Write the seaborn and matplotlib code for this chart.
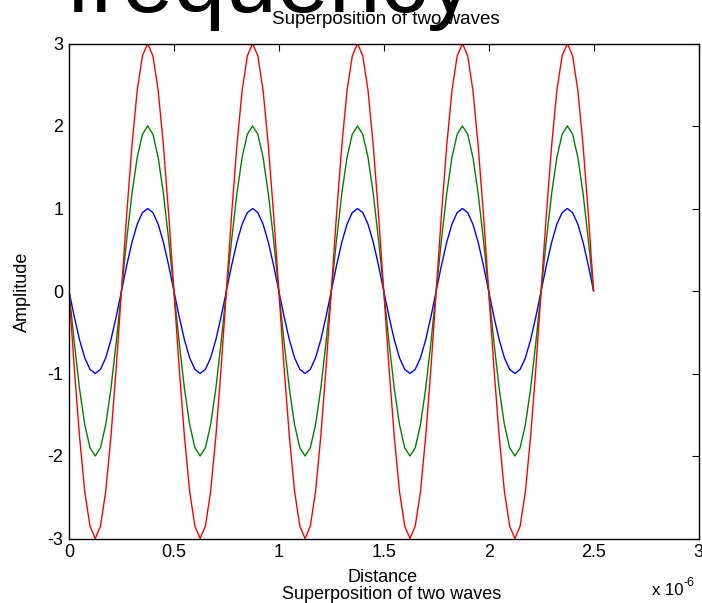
import numpy as np
import pandas as pd
import matplotlib
matplotlib.use('Agg')
import matplotlib.pyplot as plt
import seaborn as sns

# one period of each wave (distance in units of 1e-6)
period_x = [0.0, 0.025, 0.05, 0.075, 0.1, 0.125, 0.15, 0.175, 0.2, 0.225,
            0.25, 0.275, 0.3, 0.325, 0.35, 0.375, 0.4, 0.425, 0.45, 0.475]
blue_period = [0.00, -0.31, -0.59, -0.81, -0.95, -1.00, -0.95, -0.81, -0.59, -0.31,
               0.00, 0.31, 0.59, 0.81, 0.95, 1.00, 0.95, 0.81, 0.59, 0.31]
green_period = [0.00, -0.62, -1.18, -1.62, -1.90, -2.00, -1.90, -1.62, -1.18, -0.62,
                0.00, 0.62, 1.18, 1.62, 1.90, 2.00, 1.90, 1.62, 1.18, 0.62]
red_period = [0.00, -0.93, -1.76, -2.43, -2.85, -3.00, -2.85, -2.43, -1.76, -0.93,
              0.00, 0.93, 1.76, 2.43, 2.85, 3.00, 2.85, 2.43, 1.76, 0.93]
period_len = 0.5
n_periods = 5
end_x = 2.5
end_value = 0.0

wave_names = ['wave 1', 'wave 2', 'sum']
wave_colors = ['#0000ff', '#008000', '#ff0000']

x_ticks = [0, 0.5, 1, 1.5, 2, 2.5, 3]
x_ticklabels = ['0', '0.5', '1', '1.5', '2', '2.5', '3']
y_ticks = [-3, -2, -1, 0, 1, 2, 3]
y_ticklabels = ['-3', '-2', '-1', '0', '1', '2', '3']

# the picture repeats the same period five times
dist = [p + k * period_len for k in range(n_periods) for p in period_x] + [end_x]
rows = []
for name, vals in zip(wave_names, [blue_period, green_period, red_period]):
    amp = list(vals) * n_periods + [end_value]
    for d, a in zip(dist, amp):
        rows.append({'distance': d, 'amplitude': a, 'wave': name})
df = pd.DataFrame(rows)

sns.set_style('white')
plt.rcParams['font.family'] = ['Liberation Sans', 'DejaVu Sans']
plt.rcParams['axes.unicode_minus'] = False
plt.rcParams['text.color'] = 'black'
plt.rcParams['axes.labelcolor'] = 'black'

W, H = 702, 603
fig = plt.figure(figsize=(W / 100, H / 100), dpi=100)
ax = fig.add_axes([69 / W, (H - 538.5) / H, (698.5 - 69) / W, (538.5 - 43.5) / H])

sns.lineplot(data=df, x='distance', y='amplitude', hue='wave', palette=wave_colors,
             hue_order=wave_names, estimator=None, sort=False, lw=1.0, legend=False, ax=ax)

ax.set_xlim(0, 3)
ax.set_ylim(-3, 3)
ax.set_xticks(x_ticks)
ax.set_xticklabels(x_ticklabels)
ax.set_yticks(y_ticks)
ax.set_yticklabels(y_ticklabels)
ax.tick_params(direction='in', length=5, width=0.8, top=True, right=True,
               labelsize=13, pad=4, colors='black')
for s in ax.spines.values():
    s.set_color('black')
    s.set_linewidth(1.0)

ax.set_xlabel('Distance', fontsize=13, color='black')
ax.xaxis.set_label_coords((383 - 69) / (698.5 - 69), -(582 - 538.5) / (538.5 - 43.5))
ax.xaxis.label.set_verticalalignment('baseline')
ax.set_ylabel('Amplitude', fontsize=13, color='black')
ax.yaxis.set_label_coords(-(69 - 22) / (698.5 - 69), (538.5 - 292) / (538.5 - 43.5))
ax.yaxis.label.set_verticalalignment('center')

fig.text(385.5 / W, 1 - 24 / H, 'Superposition of two waves', fontsize=13.5,
         ha='center', va='baseline')
fig.text(392 / W, 1 - 599 / H, 'Superposition of two waves', fontsize=13,
         ha='center', va='baseline')
fig.text(652 / W, 1 - 595 / H, 'x 10', fontsize=12, ha='left', va='baseline')
fig.text(683 / W, 1 - 586 / H, '-6', fontsize=9, ha='left', va='baseline')
fig.text(66 / W, 1 - 12 / H, 'frequency', fontsize=67, ha='left', va='baseline')

fig.savefig('out.png', dpi=100, facecolor='white')
